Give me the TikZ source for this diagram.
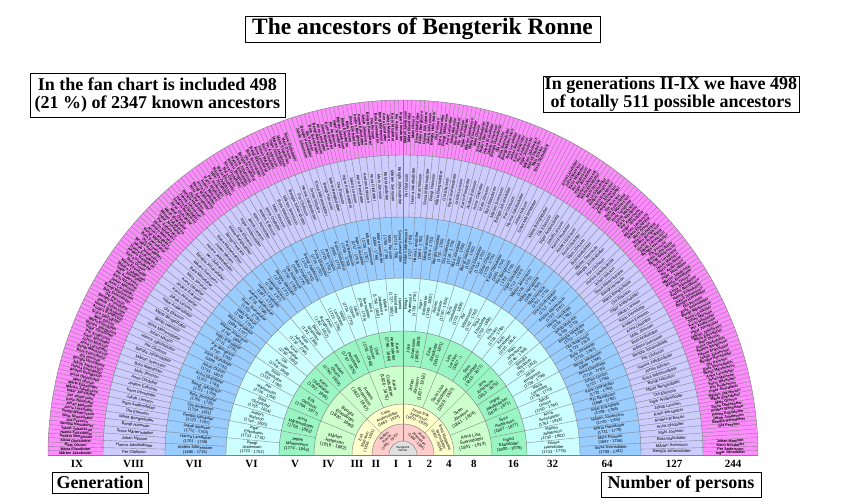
\documentclass[tikz,border=0pt]{standalone}
\usepackage{fontspec}
\setmainfont{Liberation Serif}
\newfontfamily\chartfont{Liberation Sans}
\definecolor{cI}{HTML}{E0E0E0}
\definecolor{cII}{HTML}{FFCCCC}
\definecolor{cIII}{HTML}{FFFFCC}
\definecolor{cIV}{HTML}{CCFFCC}
\definecolor{cV}{HTML}{99F5C4}
\definecolor{cVI}{HTML}{CCFFFF}
\definecolor{cVII}{HTML}{99CCFF}
\definecolor{cVIII}{HTML}{CCCCFF}
\definecolor{cIX}{HTML}{FF8CFF}
\definecolor{segcol}{HTML}{808080}
\newcommand\FN[1]{\ifcase#1 Nils\or Per\or Olof\or Anders\or Sven\or Bengt\or Jöns\or Mårten\or Erik\or Jakob\or Lars\or Johan\or Elias\or Mats\or Hans\or Ola\fi}
\newcommand\FF[1]{\ifcase#1 Anna\or Britta\or Märta\or Kerstin\or Bengta\or Ingrid\or Karin\or Elna\or Sissa\or Elin\or Bota\or Sara\or Ingar\or Gertrud\or Hanna\or Kjersti\fi}
\newcommand\PA[1]{\ifcase#1 Nils\or Pers\or Olofs\or Anders\or Svens\or Bengts\or Jöns\or Mårtens\or Eriks\or Jakobs\or Lars\or Johans\or Elias\or Mats\or Hans\or Ols\fi}
\tikzset{
  segline/.style={draw=segcol,line width=0.35pt},
  ringline/.style={draw=segcol,line width=0.45pt},
  segtext/.style={align=center,inner sep=0pt,text=black,font=\chartfont\fontsize{4.3}{4.8}\selectfont},
  infobox/.style={draw=black,line width=0.9pt,fill=white,align=center,inner sep=0pt,font=\fontsize{18}{17.5}\selectfont\bfseries},
  genlabel/.style={anchor=base,inner sep=0pt,font=\fontsize{11}{11}\selectfont\bfseries},
}
\begin{document}
\begin{tikzpicture}[x=1pt,y=1pt]
\useasboundingbox (-403,-46) rectangle (438,455);
\fill[white] (-403,-46) rectangle (438,455);
% ring fills
\foreach \ra/\rb/\col in {300/355/cIX,238/300/cVIII,177/238/cVII,124/177/cVI,89/124/cV,51/89/cIV,31/51/cIII,14/31/cII}{
  \fill[\col] (0:\rb pt) arc[start angle=0,end angle=180,radius=\rb pt] -- (180:\ra pt) arc[start angle=180,end angle=0,radius=\ra pt] -- cycle;
}
\fill[cI] (0:14pt) arc[start angle=0,end angle=180,radius=14pt] -- cycle;
% radial segment lines
\foreach \ra/\rb/\n in {14/31/2,31/51/4,51/89/8,89/124/16,124/177/32,177/238/64,238/300/128,300/355/256}{
  \pgfmathtruncatemacro\nm{\n-1}
  \pgfmathsetmacro\wd{180/\n}
  \foreach \q in {1,...,\nm}{
    \draw[segline] ({\wd*\q}:\ra pt) -- ({\wd*\q}:\rb pt);
  }
}
% ring arcs
\foreach \r in {14,31,51,89,124,177,238,300,355}{
  \draw[ringline] (0:\r pt) arc[start angle=0,end angle=180,radius=\r pt];
}
\draw[ringline] (180:355pt) -- (0:355pt);
% Generation I
\node[segtext,font=\chartfont\fontsize{3}{3.4}\selectfont] (p1) at (0,6) {Bengterik\\Ronne};
% Generation II
\foreach \q/\t in {0/{Anders\\Ronne\\(1891 - 1970)},1/{Jenny\\Johansson\\(1893 - 1934)}}{
  \pgfmathsetmacro\angA{180-(\q+0.5)*90}
  \node[segtext,font=\chartfont\fontsize{3.6}{4}\selectfont,rotate=\angA-90] (p2-\q) at (\angA:22.5pt) {\t};
}
% Generation III
\foreach \q/\t in {0/{Erik\\Mattsson\\(1856 - 1931)},1/{Carin\\Andersdotter\\(1863 - 1924)},2/{Jonas Erik\\Johansson\\(1870 - 1935)},3/{Brita Margareta\\Svensdotter\\(1867 - 1934)}}{
  \pgfmathsetmacro\angA{180-(\q+0.5)*45}
  \node[segtext,font=\chartfont\fontsize{3.9}{4.3}\selectfont,rotate=\angA-90] (p3-\q) at (\angA:41pt) {\t};
}
% Generation IV
\foreach \q/\t in {0/{Mårten\\Jeppsson\\(1819 - 1882)},1/{Bengta\\Eriksdotter\\(1820 - 1890)},2/{Anders\\Andersson\\(1822 - 1897)},3/{Karin\\Olofsdotter\\(1826 - 1875)},4/{Johan\\Jönsson\\(1837 - 1918)},5/{Sara Lisa\\Larsdotter\\(1839 - 1927)},6/{Sven\\Jönsson\\(1841 - 1904)},7/{Anna Lisa\\Svensdotter\\(1841 - 1914)}}{
  \pgfmathsetmacro\angA{180-(\q+0.5)*22.5}
  \pgfmathsetmacro\rotA{\angA>90 ? \angA-180 : \angA}
  \node[segtext,font=\chartfont\fontsize{4.5}{5}\selectfont,rotate=\rotA] (p4-\q) at (\angA:70pt) {\t};
}
% Generation V
\foreach \q/\t in {0/{Jeppe\\Mårtensson\\(1774 - 1844)},1/{Anna\\Mårtensdotter\\(1768 - 1863)},2/{Erik\\Olofsson\\(1794 - 1877)},3/{Karin\\Olofsdotter\\(1792 - 1865)},4/{Anders\\Olsson\\(1790 - 1859)},5/{Anna\\Persdotter\\(1797 - 1875)},6/{Olof\\Nilsson\\(1791 - 1848)},7/{Karin\\Andersdotter\\(1796 - 1864)},8/{Jöns\\Johansson\\(1808 - 1880)},9/{Elna\\Jönsdotter\\(1810 - 1871)},10/{Lars\\Larsson\\(1817 - )},11/{Sara\\Olofsdotter\\(1815 - 1877)},12/{Jöns\\Johansson\\(1813 - 1879)},13/{Ingrid\\Jakobsdotter\\(1816 - 1871)},14/{Sven\\Andersson\\(1807 - 1877)},15/{Ingrid\\Eliasdotter\\(1800 - 1878)}}{
  \pgfmathsetmacro\angA{180-(\q+0.5)*11.25}
  \pgfmathsetmacro\rotA{\angA>90 ? \angA-180 : \angA}
  \node[segtext,font=\chartfont\fontsize{4.2}{4.7}\selectfont,rotate=\rotA] (p5-\q) at (\angA:106.5pt) {\t};
}
% Generation VI
\foreach \q in {0,...,31}{
  \pgfmathsetmacro\angA{180-(\q+0.5)*5.625}
  \pgfmathsetmacro\rotA{\angA>90 ? \angA-180 : \angA}
  \pgfmathtruncatemacro\na{mod(\q*7+5,16)}
  \pgfmathtruncatemacro\nb{mod(\q*5+3,16)}
  \pgfmathtruncatemacro\yb{1722+mod(\q*11,40)}
  \pgfmathtruncatemacro\yd{\yb+30+mod(\q*13,50)}
  \ifodd\q \edef\nmA{\FF{\na}}\edef\nmB{\PA{\nb}dotter}\else \edef\nmA{\FN{\na}}\edef\nmB{\PA{\nb}son}\fi
  \node[segtext,font=\chartfont\fontsize{4}{4.4}\selectfont,rotate=\rotA] (p6-\q) at (\angA:151pt) {\nmA\\\nmB\\(\yb{} - \yd)};
}
% Generation VII
\foreach \q in {0,...,63}{
  \pgfmathsetmacro\angA{180-(\q+0.5)*2.8125}
  \pgfmathsetmacro\rotA{\angA>90 ? \angA-180 : \angA}
  \pgfmathtruncatemacro\na{mod(\q*11+3,16)}
  \pgfmathtruncatemacro\nb{mod(\q*3+7,16)}
  \pgfmathtruncatemacro\yb{1690+mod(\q*11,45)}
  \pgfmathtruncatemacro\yd{\yb+25+mod(\q*13,55)}
  \ifodd\q \edef\nmA{\FF{\na}}\edef\nmB{\PA{\nb}dotter}\else \edef\nmA{\FN{\na}}\edef\nmB{\PA{\nb}son}\fi
  \node[segtext,font=\chartfont\fontsize{4}{4.4}\selectfont,rotate=\rotA] (p7-\q) at (\angA:208pt) {\nmA\ \nmB\\(\yb{} - \yd)};
}
% Generation VIII
\foreach \q in {0,...,127}{
  \ifnum\q=84 \else
  \pgfmathsetmacro\angA{180-(\q+0.5)*1.40625}
  \pgfmathsetmacro\rotA{\angA>90 ? \angA-180 : \angA}
  \pgfmathtruncatemacro\na{mod(\q*13+1,16)}
  \pgfmathtruncatemacro\nb{mod(\q*7+2,16)}
  \ifodd\q \edef\nmA{\FF{\na}}\edef\nmB{\PA{\nb}dotter}\else \edef\nmA{\FN{\na}}\edef\nmB{\PA{\nb}son}\fi
  \node[segtext,font=\chartfont\fontsize{4.1}{4.5}\selectfont,rotate=\rotA] (p8-\q) at (\angA:269pt) {\nmA\ \nmB};
  \fi
}
% Generation IX
\foreach \q in {0,...,255}{
  \pgfmathtruncatemacro\emp{((\q>=164)&&(\q<=170))||((\q>=249)&&(\q<=251))||(\q==100)||(\q==101)}
  \ifnum\emp=0
  \pgfmathsetmacro\angA{180-(\q+0.5)*0.703125}
  \pgfmathsetmacro\rotA{\angA>90 ? \angA-180 : \angA}
  \pgfmathtruncatemacro\na{mod(\q*11+7,16)}
  \pgfmathtruncatemacro\nb{mod(\q*3+9,16)}
  \ifodd\q \edef\nmA{\FF{\na}}\edef\nmB{\PA{\nb}dotter}\else \edef\nmA{\FN{\na}}\edef\nmB{\PA{\nb}son}\fi
  \node[segtext,font=\chartfont\bfseries\fontsize{3.7}{4}\selectfont,rotate=\rotA] (p9-\q) at (\angA:327.5pt) {\nmA\ \nmB};
  \fi
}
% generation labels
\node[genlabel] (gIX) at (-326,-12.5) {IX};
\node[genlabel] (gVIII) at (-269.5,-12.5) {VIII};
\node[genlabel] (gVII) at (-209,-12.5) {VII};
\node[genlabel] (gVI) at (-151.5,-12.5) {VI};
\node[genlabel] (gV) at (-108,-12.5) {V};
\node[genlabel] (gIV) at (-74.5,-12.5) {IV};
\node[genlabel] (gIII) at (-46,-12.5) {III};
\node[genlabel] (gII) at (-27,-12.5) {II};
\node[genlabel] (gI) at (-7,-12.5) {I};
\node[genlabel] (n1) at (7,-12.5) {1};
\node[genlabel] (n2) at (26.5,-12.5) {2};
\node[genlabel] (n4) at (46,-12.5) {4};
\node[genlabel] (n8) at (71,-12.5) {8};
\node[genlabel] (n16) at (110.5,-12.5) {16};
\node[genlabel] (n32) at (149.5,-12.5) {32};
\node[genlabel] (n64) at (204,-12.5) {64};
\node[genlabel] (n127) at (271,-12.5) {127};
\node[genlabel] (n244) at (330,-12.5) {244};
% boxes
\node[infobox,font=\fontsize{23.5}{26}\selectfont\bfseries,minimum width=355pt,minimum height=26pt] (title) at (19.5,426) {The ancestors of Bengterik Ronne};
\node[infobox,minimum width=255pt,minimum height=44pt] (leftinfo) at (-245.5,360) {In the fan chart is included 498\\(21 \%) of 2347 known ancestors};
\node[infobox,font=\fontsize{18}{16.5}\selectfont\bfseries,minimum width=256pt,minimum height=36pt] (rightinfo) at (268,361) {In generations II-IX we have 498\\of totally 511 possible ancestors};
\node[infobox,minimum width=96pt,minimum height=21pt] (genbox) at (-303,-27.5) {Generation};
\node[infobox,minimum width=160pt,minimum height=25pt] (numbox) at (278,-29.5) {Number of persons};
\end{tikzpicture}
\end{document}
